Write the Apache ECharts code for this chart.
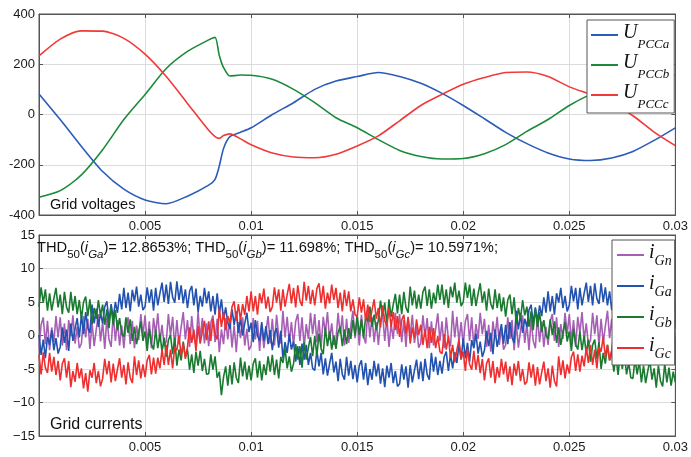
<!DOCTYPE html>
<html>
<head>
<meta charset="utf-8">
<script src="https://cdn.jsdelivr.net/npm/echarts@6/dist/echarts.min.js"></script>
<style>
  html, body { margin: 0; padding: 0; background: #fff; }
  #chart { width: 691px; height: 457px; }
</style>
</head>
<body>
<div id="chart"></div>
<script>
// grid voltages (V)
var tU = [0, 0.001, 0.002, 0.003, 0.004, 0.005, 0.006, 0.007, 0.008, 0.0083, 0.0085, 0.0087, 0.009, 0.0095,
  0.01, 0.011, 0.012, 0.013, 0.014, 0.015, 0.016, 0.017, 0.018, 0.019, 0.02,
  0.021, 0.022, 0.023, 0.024, 0.025, 0.026, 0.027, 0.028, 0.029, 0.03];
var uPCCa = [82, -20, -127, -227, -297, -340, -355, -325, -281, -258, -205, -135, -88, -71,
  -53, 0, 47, 100, 133, 151, 167, 151, 124, 84, 36,
  -17, -71, -116, -153, -177, -183, -173, -147, -103, -53];
var uPCCb = [-329, -303, -240, -140, -20, 80, 183, 251, 297, 307, 235, 187, 153, 157,
  156, 140, 100, 47, -13, -53, -100, -143, -167, -177, -175,
  -156, -120, -67, -20, 36, 80, 115, 140, 155, 156];
var uPCCc = [233, 300, 333, 332, 303, 240, 151, 44, -63, -88, -95, -84, -77, -97,
  -120, -153, -169, -172, -158, -125, -85, -25, 36, 80, 120,
  147, 167, 169, 151, 110, 80, 47, -5, -70, -124];

// grid currents (A), one sample every 0.1 ms (one row = 1 ms)
var iStep = 0.0001;
var iGn = [
  -1.9, 1.6, 2.7, -1.3, 2.2, -2.2, 1.2, -1.0, 2.9, -0.3,
  2.7, -1.5, 1.8, -2.2, 2.3, -0.1, 3.0, -1.2, 1.3, -1.9,
  -1.2, 2.9, -0.3, 2.5, -2.0, 2.0, -1.6, 0.9, 3.2, -0.9,
  2.0, -2.0, 2.6, -0.6, -1.7, 3.2, -0.8, 2.3, -1.5, 1.5,
  -1.9, 1.6, 2.7, -1.3, 2.2, -1.9, 1.5, -0.7, 3.2, 0.0,
  3.0, -1.2, 2.1, -1.9, 2.6, 0.2, 3.3, -0.9, 1.6, -1.6,
  -0.9, 3.2, 0.0, 2.8, -1.7, 2.3, -1.3, 1.2, 3.5, -0.6,
  2.3, -1.7, 2.9, -0.3, -1.4, 3.5, -0.5, 2.6, -1.2, 1.8,
  -1.6, 1.9, 3.0, -1.0, 2.5, -2.5, 0.9, -1.3, 2.6, -0.6,
  2.4, -1.8, 1.5, -2.5, 2.0, -0.4, 2.7, -1.5, 1.0, -2.2,
  -1.5, 2.6, -0.6, 2.2, -2.3, 1.7, -1.9, 0.6, 2.9, -1.2,
  2.5, -1.5, 3.1, -0.1, -1.2, 3.7, -0.3, 2.8, -1.0, 2.0,
  -1.4, 2.1, 3.2, -0.8, 2.7, -1.7, 1.7, -0.5, 3.4, 0.2,
  3.2, -1.0, 2.3, -1.7, 2.8, 0.4, 3.5, -0.7, 1.8, -1.4,
  -0.7, 3.4, 0.2, 3.0, -1.5, 2.5, -1.1, 1.4, 3.7, -0.4,
  2.5, -1.5, 3.1, -0.1, -1.2, 3.7, -0.3, 2.8, -1.0, 2.0,
  -1.4, 2.1, 3.2, -0.8, 2.7, -1.7, 1.7, -0.5, 3.4, 0.2,
  3.2, -1.0, 2.3, -1.7, 2.8, 0.0, 3.1, -1.1, 1.4, -1.8,
  -1.1, 3.0, -0.2, 2.6, -1.9, 2.1, -1.5, 1.0, 3.3, -0.8,
  2.1, -1.9, 2.7, -0.5, -1.6, 3.7, -0.3, 2.8, -1.0, 2.0,
  -1.4, 2.1, 3.2, -0.8, 2.7, -1.7, 1.7, -0.5, 3.4, 0.2,
  2.5, -1.7, 1.6, -2.4, 2.1, -0.3, 2.8, -1.4, 1.1, -2.1,
  -1.4, 2.7, -0.5, 2.3, -2.2, 1.8, -1.8, 0.7, 3.0, -1.1,
  1.8, -2.2, 2.4, -0.8, -1.9, 3.0, -1.0, 2.1, -1.7, 1.3,
  -1.4, 2.1, 3.2, -0.8, 2.7, -1.7, 1.7, -0.5, 3.4, 0.2,
  3.2, -1.0, 2.3, -1.7, 2.8, 0.4, 3.5, -0.7, 1.8, -1.4,
  -0.7, 3.4, 0.2, 3.0, -1.5, 2.5, -1.1, 1.4, 3.7, -0.4,
  2.5, -1.5, 3.1, -0.1, -1.2, 3.7, -0.3, 2.8, -1.0, 2.0,
  -1.4, 2.1, 3.2, -0.8, 2.7, -2.4, 1.0, -1.2, 2.7, -0.5,
  2.5, -1.7, 1.6, -2.4, 2.1, -0.3, 2.8, -1.4, 1.1, -2.1,
  1.0];
var iGa = [
  0.1, -2.9, -0.6, -3.4, -0.2, -1.4, 0.8, -2.2, -0.4, -2.7,
  -1.7, 1.2, -1.1, 0.9, -2.3, 1.8, -0.8, 1.0, 2.6, -0.3,
  3.1, 0.2, 3.5, 1.2, 0.4, 4.6, 1.8, 4.0, 1.3, 3.4,
  1.8, 4.3, 5.1, 2.2, 4.7, 2.6, 5.0, 3.4, 6.2, 3.9,
  7.1, 4.1, 6.4, 3.6, 6.8, 5.1, 7.3, 4.3, 6.1, 3.8,
  4.3, 7.2, 4.9, 6.9, 3.7, 7.1, 4.5, 6.3, 7.9, 5.0,
  7.6, 4.7, 8.0, 5.7, 4.9, 8.1, 5.3, 7.5, 4.8, 6.9,
  4.1, 6.6, 7.4, 4.5, 7.0, 3.5, 5.9, 4.3, 7.1, 4.8,
  6.6, 3.6, 5.9, 3.1, 6.3, 3.2, 5.4, 2.4, 4.2, 1.9,
  1.0, 3.9, 1.6, 3.6, 0.4, 2.6, 0.0, 1.8, 3.4, 0.5,
  1.9, -1.0, 2.3, 0.0, -0.8, 2.0, -0.8, 1.4, -1.3, 0.8,
  -2.2, 0.3, 1.1, -1.8, 0.7, -3.4, -1.0, -2.6, 0.2, -2.1,
  -0.9, -3.9, -1.6, -4.4, -1.2, -3.6, -1.4, -4.4, -2.6, -4.9,
  -5.2, -2.3, -4.6, -2.6, -5.8, -3.4, -6.0, -4.2, -2.6, -5.5,
  -3.9, -6.8, -3.5, -5.8, -6.6, -3.2, -6.0, -3.8, -6.5, -4.4,
  -7.0, -4.5, -3.7, -6.6, -4.1, -7.4, -5.0, -6.6, -3.8, -6.1,
  -4.2, -7.2, -4.9, -7.7, -4.5, -6.3, -4.1, -7.1, -5.3, -7.6,
  -7.2, -4.3, -6.6, -4.6, -7.8, -4.4, -7.0, -5.2, -3.6, -6.5,
  -3.9, -6.8, -3.5, -5.8, -6.6, -2.6, -5.4, -3.2, -5.9, -3.8,
  -5.7, -3.2, -2.4, -5.3, -2.8, -4.9, -2.5, -4.1, -1.3, -3.6,
  -0.4, -3.4, -1.1, -3.9, -0.7, -1.9, 0.3, -2.7, -0.9, -3.2,
  -2.2, 0.7, -1.6, 0.4, -2.8, 0.9, -1.7, 0.1, 1.7, -1.2,
  1.6, -1.3, 2.0, -0.3, -1.1, 3.7, 0.9, 3.1, 0.4, 2.5,
  1.3, 3.8, 4.6, 1.7, 4.2, 2.1, 4.5, 2.9, 5.7, 3.4,
  6.6, 3.6, 5.9, 3.1, 6.3, 4.9, 7.1, 4.1, 5.9, 3.6,
  4.5, 7.4, 5.1, 7.1, 3.9, 7.1, 4.5, 6.3, 7.9, 5.0,
  7.4, 4.5, 7.8, 5.5, 4.7, 7.8, 5.0, 7.2, 4.5, 6.6,
  3.8, 6.3, 7.1, 4.2, 6.7, 3.1, 5.5, 3.9, 6.7, 4.4,
  6.1, 3.1, 5.4, 2.6, 5.8, 3.3, 5.5, 2.5, 4.3, 2.0,
  1.8, 4.7, 2.4, 4.4, 1.2, 3.3, 0.7, 2.5, 4.1, 1.2,
  2.4];
var iGb = [
  4.3, 7.2, 4.9, 6.9, 3.7, 6.3, 3.7, 5.5, 7.1, 4.2,
  6.1, 3.2, 6.5, 4.2, 3.4, 6.5, 3.7, 5.9, 3.2, 5.3,
  2.5, 5.0, 5.8, 2.9, 5.4, 1.7, 4.1, 2.5, 5.3, 3.0,
  4.6, 1.6, 3.9, 1.1, 4.3, 1.6, 3.8, 0.8, 2.6, 0.3,
  -0.2, 2.7, 0.4, 2.4, -0.8, 1.3, -1.3, 0.5, 2.1, -0.8,
  0.6, -2.3, 1.0, -1.3, -2.1, 0.9, -1.9, 0.3, -2.4, -0.3,
  -3.2, -0.7, 0.1, -2.8, -0.3, -4.5, -2.1, -3.7, -0.9, -3.2,
  -2.1, -5.1, -2.8, -5.6, -2.4, -4.5, -2.3, -5.3, -3.5, -5.8,
  -5.7, -2.8, -5.1, -3.1, -6.3, -5.4, -8.9, -6.2, -4.6, -7.5,
  -4.4, -7.3, -4.0, -6.3, -7.1, -3.3, -6.1, -3.9, -6.6, -4.5,
  -6.7, -4.2, -3.4, -6.3, -3.8, -6.7, -4.3, -5.9, -3.1, -5.4,
  -2.9, -5.9, -3.6, -6.4, -3.2, -4.1, -1.9, -4.9, -3.1, -5.4,
  -4.2, -1.3, -3.6, -1.6, -4.8, -1.0, -3.6, -1.8, -0.2, -3.1,
  -0.1, -3.0, 0.3, -2.0, -2.8, 1.2, -1.6, 0.6, -2.1, 0.0,
  -2.0, 0.5, 1.3, -1.6, 0.9, -1.3, 1.1, -0.5, 2.3, 0.0,
  3.1, 0.1, 2.4, -0.4, 2.8, 2.1, 4.3, 1.3, 3.1, 0.8,
  2.3, 5.2, 2.9, 4.9, 1.7, 5.4, 2.8, 4.6, 6.2, 3.3,
  6.1, 3.2, 6.5, 4.2, 3.4, 7.3, 4.5, 6.7, 4.0, 6.1,
  4.0, 6.5, 7.3, 4.4, 6.9, 4.0, 6.4, 4.8, 7.6, 5.3,
  7.6, 4.6, 6.9, 4.1, 7.3, 5.7, 7.9, 4.9, 6.7, 4.4,
  5.0, 7.9, 5.6, 7.6, 4.4, 7.0, 4.4, 6.2, 7.8, 4.9,
  6.6, 3.7, 7.0, 4.7, 3.9, 6.9, 4.1, 6.3, 3.6, 5.7,
  2.8, 5.3, 6.1, 3.2, 5.7, 1.7, 4.1, 2.5, 5.3, 3.0,
  4.3, 1.3, 3.6, 0.8, 4.0, 1.3, 3.5, 0.5, 2.3, 0.0,
  -0.5, 2.4, 0.1, 2.1, -1.1, 1.2, -1.4, 0.4, 2.0, -0.9,
  0.6, -2.3, 1.0, -1.3, -2.1, 0.6, -2.2, 0.0, -2.7, -0.6,
  -3.9, -1.4, -0.6, -3.5, -1.0, -5.0, -2.6, -4.2, -1.4, -3.7,
  -2.4, -5.4, -3.1, -5.9, -2.7, -5.0, -2.8, -5.8, -4.0, -6.3,
  -6.4, -3.5, -5.8, -3.8, -7.0, -4.5, -7.1, -5.3, -3.7, -6.6,
  -4.9, -7.8, -4.5, -6.8, -7.6, -4.2, -7.0, -4.8, -7.5, -5.4,
  -7.0];
var iGc = [
  -2.9, -5.8, -2.5, -4.8, -5.6, -2.6, -5.4, -3.2, -5.9, -3.8,
  -6.7, -4.2, -3.4, -6.3, -3.8, -7.7, -5.3, -6.9, -4.1, -6.4,
  -4.9, -7.9, -5.6, -8.4, -5.2, -6.3, -4.1, -7.1, -5.3, -7.6,
  -6.4, -3.5, -5.8, -3.8, -7.0, -4.2, -6.8, -5.0, -3.4, -6.3,
  -4.4, -7.3, -4.0, -6.3, -7.1, -3.1, -5.9, -3.7, -6.4, -4.3,
  -6.2, -3.7, -2.9, -5.8, -3.3, -5.7, -3.3, -4.9, -2.1, -4.4,
  -1.4, -4.4, -2.1, -4.9, -1.7, -2.2, 0.0, -3.0, -1.2, -3.5,
  -1.7, 1.2, -1.1, 0.9, -2.3, 1.4, -1.2, 0.6, 2.2, -0.7,
  2.1, -0.8, 2.5, 0.2, -0.6, 4.1, 1.3, 3.5, 0.8, 2.9,
  1.8, 4.3, 5.1, 2.2, 4.7, 2.3, 4.7, 3.1, 5.9, 3.6,
  6.6, 3.6, 5.9, 3.1, 6.3, 4.8, 7.0, 4.0, 5.8, 3.5,
  4.3, 7.2, 4.9, 6.9, 3.7, 6.9, 4.3, 6.1, 7.7, 4.8,
  7.1, 4.2, 7.5, 5.2, 4.4, 8.0, 5.2, 7.4, 4.7, 6.8,
  4.5, 7.0, 7.8, 4.9, 7.4, 4.0, 6.4, 4.8, 7.6, 5.3,
  7.1, 4.1, 6.4, 3.6, 6.8, 4.4, 6.6, 3.6, 5.4, 3.1,
  2.8, 5.7, 3.4, 5.4, 2.2, 4.6, 2.0, 3.8, 5.4, 2.5,
  4.1, 1.2, 4.5, 2.2, 1.4, 4.1, 1.3, 3.5, 0.8, 2.9,
  -0.2, 2.3, 3.1, 0.2, 2.7, -1.2, 1.2, -0.4, 2.4, 0.1,
  1.6, -1.4, 0.9, -1.9, 1.3, -1.1, 1.1, -1.9, -0.1, -2.4,
  -2.7, 0.2, -2.1, -0.1, -3.3, -1.4, -4.0, -2.2, -0.6, -3.5,
  -2.4, -5.3, -2.0, -4.3, -5.1, -2.3, -5.1, -2.9, -5.6, -3.5,
  -6.7, -4.2, -3.4, -6.3, -3.8, -7.1, -4.7, -6.3, -3.5, -5.8,
  -3.9, -6.9, -4.6, -7.4, -4.2, -6.0, -3.8, -6.8, -5.0, -7.3,
  -6.9, -4.0, -6.3, -4.3, -7.5, -4.7, -7.3, -5.5, -3.9, -6.8,
  -4.9, -7.8, -4.5, -6.8, -7.6, -3.1, -5.9, -3.7, -6.4, -4.3,
  -5.7, -3.2, -2.4, -5.3, -2.8, -5.4, -3.0, -4.6, -1.8, -4.1,
  -1.4, -4.4, -2.1, -4.9, -1.7, -2.4, -0.2, -3.2, -1.4, -3.7,
  -2.2, 0.7, -1.6, 0.4, -2.8, 1.1, -1.5, 0.3, 1.9, -1.0,
  2.1, -0.8, 2.5, 0.2, -0.6, 3.9, 1.1, 3.3, 0.6, 2.7,
  1.3, 3.8, 4.6, 1.7, 4.2, 1.8, 4.2, 2.6, 5.4, 3.1,
  6.0];

var xTicks = { min: 0, max: 0.03, interval: 0.005 };
var uTicks = { min: -400, max: 400, interval: 200 };
var iTicks = { min: -15, max: 15, interval: 5 };

function pairs(t, v) {
    var out = [];
    for (var k = 0; k < v.length; k++) out.push([t[k], v[k]]);
    return out;
}
function sampled(v) {
    var out = [];
    for (var k = 0; k < v.length; k++) out.push([k * iStep, v[k]]);
    return out;
}

var frame = '#555';
var labelFont = { color: '#1a1a1a', fontSize: 13, fontFamily: 'Arial, Liberation Sans' };

function xAxisFor(grid, top) {
    return {
        type: 'value', gridIndex: grid, position: top ? 'top' : 'bottom',
        min: xTicks.min, max: xTicks.max, interval: xTicks.interval,
        axisLine: { onZero: false, lineStyle: { color: frame, width: 1 } },
        axisTick: { inside: true, length: 4, lineStyle: { color: frame } },
        axisLabel: Object.assign({ show: !top, margin: 5, showMinLabel: false }, labelFont),
        splitLine: { show: !top, lineStyle: { color: '#dcdcdc', width: 1 } }
    };
}
function yAxisFor(grid, ticks, right, fmt) {
    return {
        type: 'value', gridIndex: grid, position: right ? 'right' : 'left',
        min: ticks.min, max: ticks.max, interval: ticks.interval,
        axisLine: { show: true, onZero: false, lineStyle: { color: frame, width: 1 } },
        axisTick: { show: true, inside: true, length: 4, lineStyle: { color: frame } },
        axisLabel: Object.assign({ show: !right, margin: 4, formatter: fmt }, labelFont),
        splitLine: { show: !right, lineStyle: { color: '#dcdcdc', width: 1 } }
    };
}

function voltage(name, data, color) {
    return {
        name: name, type: 'line', xAxisIndex: 0, yAxisIndex: 0,
        data: pairs(tU, data), symbol: 'none', smooth: 0.25,
        lineStyle: { color: color, width: 1.6 }, itemStyle: { color: color }
    };
}
function current(name, data, color) {
    return {
        name: name, type: 'line', xAxisIndex: 2, yAxisIndex: 2,
        data: sampled(data), symbol: 'none',
        lineStyle: { color: color, width: 1.6 }, itemStyle: { color: color }
    };
}

var serif = 'Liberation Serif, Times New Roman, serif';
var sans = 'Arial, Liberation Sans, sans-serif';

var option = {
    animation: false,
    backgroundColor: '#fff',
    grid: [
        { left: 39, right: 12, top: 14, height: 201, show: true, borderColor: frame, borderWidth: 1, backgroundColor: '#fff' },
        { left: 39, right: 12, top: 235, height: 201, show: true, borderColor: frame, borderWidth: 1, backgroundColor: '#fff' }
    ],
    xAxis: [xAxisFor(0, false), xAxisFor(0, true), xAxisFor(1, false), xAxisFor(1, true)],
    yAxis: [
        yAxisFor(0, uTicks, false),
        yAxisFor(0, uTicks, true),
        yAxisFor(1, iTicks, false, function (v) { return v <= -10 ? '\u2212' + (-v) : String(v); }),
        yAxisFor(1, iTicks, true)
    ],
    legend: [{
        orient: 'vertical', left: 587, top: 20, itemGap: 0, itemWidth: 27, itemHeight: 2, icon: 'rect',
        padding: [1, 5, 2, 4], backgroundColor: '#fff', borderColor: frame, borderWidth: 1, borderRadius: 0,
        data: ['UPCCa', 'UPCCb', 'UPCCc'],
        formatter: function (name) { return '{u|U}{s|' + name.slice(1) + '}'; },
        textStyle: {
            rich: {
                u: { fontFamily: serif, fontStyle: 'italic', fontSize: 20, color: '#111', verticalAlign: 'top', height: 23, lineHeight: 28 },
                s: { fontFamily: serif, fontStyle: 'italic', fontSize: 13, color: '#111', verticalAlign: 'bottom', height: 9, lineHeight: 28 }
            }
        }
    }, {
        orient: 'vertical', left: 612, top: 240, itemGap: 1, itemWidth: 27, itemHeight: 2, icon: 'rect',
        padding: [0, 3, 2, 5], backgroundColor: '#fff', borderColor: frame, borderWidth: 1, borderRadius: 0,
        data: ['iGn', 'iGa', 'iGb', 'iGc'],
        formatter: function (name) { return '{i|i}{g|' + name.slice(1) + '}'; },
        textStyle: {
            rich: {
                i: { fontFamily: serif, fontStyle: 'italic', fontSize: 20, color: '#111', verticalAlign: 'top', height: 26, lineHeight: 30 },
                g: { fontFamily: serif, fontStyle: 'italic', fontSize: 14, color: '#111', verticalAlign: 'bottom', height: 17, lineHeight: 30 }
            }
        }
    }],
    graphic: [
        { type: 'text', left: 50, top: 197, z: 10,
          style: { text: 'Grid voltages', font: '14.5px ' + sans, fill: '#111' } },
        { type: 'text', left: 50, top: 417, z: 10,
          style: { text: 'Grid currents', font: '16px ' + sans, fill: '#111' } },
        { type: 'text', left: 37, top: 240, z: 10,
          style: {
              text: '{m|THD}{s|50}{m|(}{mi|i}{si|Ga}{m|)= 12.8653%; THD}{s|50}{m|(}{mi|i}{si|Gb}{m|)= 11.698%; THD}{s|50}{m|(}{mi|i}{si|Gc}{m|)= 10.5971%;}',
              fill: '#111',
              rich: {
                  m: { fontFamily: sans, fontSize: 14.7, fill: '#111', verticalAlign: 'top', lineHeight: 21 },
                  mi: { fontFamily: sans, fontStyle: 'italic', fontSize: 14.7, fill: '#111', verticalAlign: 'top', lineHeight: 21 },
                  s: { fontFamily: sans, fontSize: 11.5, fill: '#111', verticalAlign: 'bottom', lineHeight: 21 },
                  si: { fontFamily: sans, fontStyle: 'italic', fontSize: 11.5, fill: '#111', verticalAlign: 'bottom', lineHeight: 21 }
              }
          } }
    ],
    series: [
        voltage('UPCCa', uPCCa, '#2b5cb8'),
        voltage('UPCCb', uPCCb, '#1c8a3a'),
        voltage('UPCCc', uPCCc, '#f03a3a'),
        current('iGn', iGn, '#a65fb5'),
        current('iGa', iGa, '#2152b0'),
        current('iGb', iGb, '#1a7a30'),
        current('iGc', iGc, '#ef2f2f')
    ]
};

var chart = echarts.init(document.getElementById('chart'));
chart.setOption(option);
</script>
</body>
</html>
